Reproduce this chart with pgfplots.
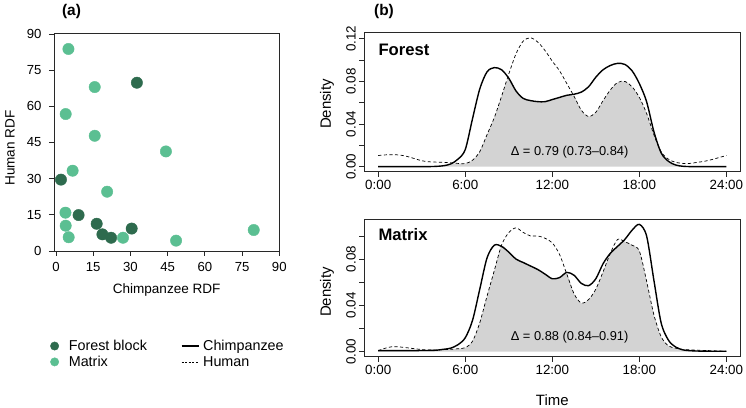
\documentclass[border=0pt]{standalone}
\usepackage{fontspec}
\setmainfont{Liberation Sans}
\usepackage{pgfplots}
\pgfplotsset{compat=1.18}
\usepackage{pgfplotstable}
\definecolor{forestc}{RGB}{46,107,78}
\definecolor{matrixc}{RGB}{91,191,146}
\definecolor{overlapc}{RGB}{211,211,211}
\definecolor{axc}{RGB}{40,40,40}

\pgfplotstableread{
x y
32.6 69.8
2.0 29.6
9.1 14.9
16.4 11.3
18.7 6.9
22.2 5.5
30.5 9.3
}\forestpts

\pgfplotstableread{
x y
5.0 83.8
15.6 68.0
3.9 56.8
15.6 47.8
44.3 41.3
6.7 33.3
20.6 24.6
3.8 15.9
3.9 10.5
5.1 5.7
27.0 5.5
48.4 4.3
79.7 8.7
}\matrixpts

\pgfplotstableread{
t c h
0 0 0.0104
0.5 0 0.0110
1 0 0.0112
1.5 0 0.0108
2 0 0.0095
2.5 0 0.0075
3 0 0.0055
3.5 0 0.0045
4 0.0002 0.0042
4.5 0.0008 0.0040
5 0.0025 0.0035
5.5 0.007 0.003
6 0.016 0.0028
6.5 0.045 0.006
7 0.073 0.014
7.5 0.089 0.030
8 0.093 0.046
8.5 0.091 0.066
9 0.083 0.087
9.5 0.071 0.106
10 0.064 0.118
10.5 0.062 0.121
11 0.061 0.117
11.5 0.061 0.109
12 0.063 0.099
12.5 0.065 0.090
13 0.067 0.078
13.5 0.068 0.066
14 0.070 0.053
14.5 0.075 0.047
15 0.084 0.051
15.5 0.091 0.062
16 0.095 0.072
16.5 0.097 0.079
17 0.096 0.080
17.5 0.090 0.075
18 0.078 0.065
18.5 0.061 0.050
19 0.033 0.030
19.5 0.013 0.014
20 0.005 0.007
20.5 0.0015 0.004
21 0.0003 0.003
21.5 0 0.003
22 0 0.004
22.5 0 0.005
23 0 0.0066
23.5 0 0.0085
24 0 0.0104
}\forestdens

\pgfplotstableread{
t c h
0 0.0008 0.0008
0.5 0.0008 0.003
1 0.0008 0.0043
1.5 0.0008 0.004
2 0.0008 0.0033
2.5 0.0008 0.0025
3 0.001 0.0018
3.5 0.001 0.0015
4 0.0012 0.0015
4.5 0.002 0.0018
5 0.003 0.002
5.5 0.006 0.0025
6 0.012 0.0034
6.5 0.027 0.009
7 0.054 0.025
7.5 0.081 0.048
8 0.092 0.070
8.5 0.091 0.092
9 0.086 0.103
9.5 0.080 0.107
10 0.077 0.103
10.5 0.074 0.100
11 0.071 0.100
11.5 0.067 0.098
12 0.063 0.094
12.5 0.064 0.084
13 0.0685 0.067
13.5 0.066 0.050
14 0.059 0.042
14.5 0.057 0.045
15 0.063 0.054
15.5 0.076 0.069
16 0.085 0.085
16.5 0.091 0.097
17 0.097 0.095
17.5 0.105 0.092
18 0.110 0.087
18.5 0.100 0.061
19 0.062 0.032
19.5 0.025 0.013
20 0.010 0.005
20.5 0.004 0.003
21 0.0015 0.0018
21.5 0.0008 0.0015
22 0.0005 0.0013
22.5 0.0004 0.001
23 0.0003 0.0008
23.5 0.0003 0.0005
24 0.0003 0.0003
}\matrixdens

\pgfplotsset{
  rstyle/.style={
    scale only axis,
    axis line style={axc, line width=0.8bp},
    tick style={axc, line width=0.8bp},
    tick align=outside,
    major tick length=5bp,
    tick pos=left,
    /pgf/number format/assume math mode=true,
  },
  denstyle/.style={
    rstyle,
    width=376bp,
    xmin=-0.96, xmax=24.96,
    xtick={0,6,12,18,24},
    xticklabels={0:00,6:00,12:00,18:00,24:00},
    ticklabel style={font=\fontsize{13.4}{15}\selectfont},
    ytick={0,0.02,0.04,0.06,0.08,0.10,0.12},
    yticklabels={0.00,,0.04,,0.08,,0.12},
    yticklabel style={rotate=90, anchor=south},
    label style={font=\fontsize{15}{17}\selectfont},
  },
  chimp/.style={black, line width=1.4bp, smooth, tension=0.5},
  human/.style={black, line width=0.7bp, dash pattern=on 3.2bp off 2.4bp, smooth, tension=0.5},
}

\begin{document}
\begin{tikzpicture}
\useasboundingbox (0,0) rectangle (746bp,408bp);

% Panel (a)
\begin{axis}[
  rstyle,
  at={(54bp,157bp)}, anchor=south west,
  width=225.3bp, height=217.7bp,
  xmin=-0.81, xmax=90, ymin=0, ymax=90.3,
  xtick={0,15,...,90}, ytick={0,15,...,90},
  ticklabel style={font=\fontsize{13.2}{15}\selectfont},
  xticklabel style={yshift=-2.5bp},
  yticklabel style={xshift=-4bp},
  xlabel={Chimpanzee RDF}, ylabel={Human RDF},
  label style={font=\fontsize{13.6}{15}\selectfont},
  xlabel style={at={(axis description cs:0.5,-0.179)}, anchor=center},
  ylabel style={at={(axis description cs:-0.195,0.473)}, anchor=center},
  legend columns=2, transpose legend,
  legend cell align=left,
  legend style={at={(axis description cs:-0.03,-0.39)}, anchor=north west,
    draw=none, fill=none, font=\fontsize{14.4}{16}\selectfont,
    /tikz/column 1/.style={column sep=8bp},
    /tikz/column 2/.style={column sep=32bp},
    /tikz/column 3/.style={column sep=2bp}},
]
\addlegendimage{only marks, mark=*, mark size=4.2bp, color=forestc}
\addlegendentry{Forest block}
\addlegendimage{only marks, mark=*, mark size=4.2bp, color=matrixc}
\addlegendentry{Matrix}
\addlegendimage{black, line width=1.2bp}
\addlegendentry{Chimpanzee}
\addlegendimage{black, line width=0.7bp, dash pattern=on 2bp off 1.6bp}
\addlegendentry{Human}
\addplot[only marks, mark=*, mark size=5.7bp, color=matrixc, forget plot] table[x=x,y=y] {\matrixpts};
\addplot[only marks, mark=*, mark size=5.7bp, color=forestc, forget plot] table[x=x,y=y] {\forestpts};
\end{axis}

% Panel (b) top: Forest
\begin{axis}[
  denstyle,
  at={(364.3bp,236.3bp)}, anchor=south west,
  height=139bp,
  ymin=-0.0048, ymax=0.1258,
  ylabel={Density},
  ylabel style={at={(axis description cs:-0.099,0.487)}, anchor=center},
]
\addplot[fill=overlapc, draw=none, smooth, tension=0.5] table[x=t, y expr={min(\thisrow{c},\thisrow{h})}] {\forestdens} \closedcycle;
\addplot[human] table[x=t,y=h] {\forestdens};
\addplot[chimp] table[x=t,y=c] {\forestdens};
\node[anchor=west, font=\bfseries\fontsize{16.7}{18}\selectfont] at (axis description cs:0.0285,0.876) {Forest};
\node[font=\fontsize{12.9}{15}\selectfont] at (axis description cs:0.546,0.14) {Δ = 0.79 (0.73–0.84)};
\end{axis}

% Panel (b) bottom: Matrix
\begin{axis}[
  denstyle,
  at={(364.3bp,51.3bp)}, anchor=south west,
  height=137.4bp,
  ymin=-0.0044, ymax=0.1144,
  ylabel={Density}, xlabel={Time},
  ylabel style={at={(axis description cs:-0.099,0.471)}, anchor=center},
  xlabel style={at={(axis description cs:0.5,-0.315)}, anchor=center},
]
\addplot[fill=overlapc, draw=none, smooth, tension=0.5] table[x=t, y expr={min(\thisrow{c},\thisrow{h})}] {\matrixdens} \closedcycle;
\addplot[human] table[x=t,y=h] {\matrixdens};
\addplot[chimp] table[x=t,y=c] {\matrixdens};
\node[anchor=west, font=\bfseries\fontsize{16.7}{18}\selectfont] at (axis description cs:0.0285,0.891) {Matrix};
\node[font=\fontsize{12.9}{15}\selectfont] at (axis description cs:0.546,0.143) {Δ = 0.88 (0.84–0.91)};
\end{axis}

\node[font=\bfseries\fontsize{15.5}{17}\selectfont] at (71.5bp,396.3bp) {(a)};
\node[font=\bfseries\fontsize{15.5}{17}\selectfont] at (384bp,396.3bp) {(b)};
\end{tikzpicture}
\end{document}
